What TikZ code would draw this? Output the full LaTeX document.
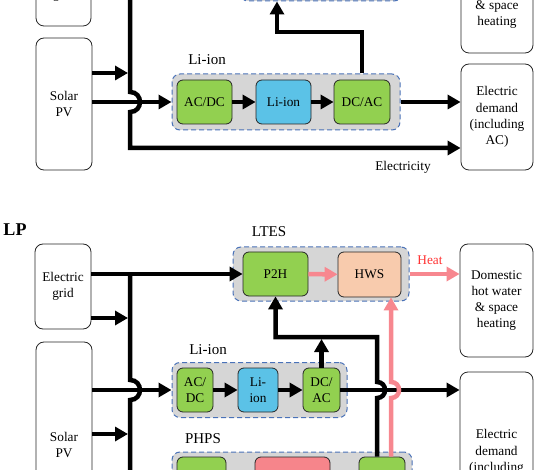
\documentclass[tikz,border=0pt]{standalone}
\usepackage{fontspec}
\setmainfont{Liberation Serif}
\usetikzlibrary{arrows.meta,calc}
\definecolor{gboxc}{HTML}{92D050}
\definecolor{bboxc}{HTML}{5BC2E7}
\definecolor{peachc}{HTML}{F8CBAD}
\definecolor{pinkboxc}{HTML}{F6858B}
\definecolor{pinkln}{HTML}{F7878F}
\definecolor{contc}{HTML}{D6D6D6}
\definecolor{dashc}{HTML}{4A72B8}
\definecolor{heatc}{HTML}{FF3333}
\begin{document}
\begin{tikzpicture}[x=1pt,y=-1pt,
  txt/.style={font=\fontsize{13.3}{16.3}\selectfont, align=center},
  wbox/.style={txt, draw=black!85, line width=0.8pt, rounded corners=8pt, fill=white, inner sep=0pt},
  gbox/.style={txt, draw=black!85, line width=0.8pt, rounded corners=6pt, fill=gboxc, inner sep=0pt},
  bbox/.style={gbox, fill=bboxc},
  peachbox/.style={gbox, fill=peachc},
  pinkbox/.style={gbox, fill=pinkboxc},
  cont/.style={draw=dashc, line width=1pt, dash pattern=on 5pt off 3pt, rounded corners=8pt, fill=contc, inner sep=0pt},
  lbl/.style={font=\fontsize{15}{17}\selectfont},
  wire/.style={line width=4.5pt},
  conn/.style={wire, -{Triangle[length=13pt,width=14pt]}},
  pwire/.style={line width=4.5pt, draw=pinkln},
  pconn/.style={pwire, -{Triangle[length=13pt,width=14pt]}, pinkln},
  hopdn/.style={insert path={-- ($(#1)+(0,-10)$) .. controls +(13.3,0) and +(13.3,0) .. ($(#1)+(0,10)$)}},
  hopup/.style={insert path={-- ($(#1)+(0,8)$) .. controls +(10.7,0) and +(10.7,0) .. ($(#1)+(0,-8)$)}}
]
\useasboundingbox (0,0) rectangle (535,470);
\clip (0,0) rectangle (535,470);

% ================= top section =================
\node[wbox, minimum width=55pt, minimum height=78pt] (gridT) at (63.5,-13) {Electric\\grid};
\node[wbox, minimum width=56pt, minimum height=132pt] (solarT) at (64,104) {Solar\\PV};
\node[wbox, minimum width=72pt, minimum height=109pt] (domT) at (497,-1.5) {Domestic\\hot water\\\& space\\heating};
\node[wbox, minimum width=72pt, minimum height=106pt] (demT) at (497,117) {Electric\\demand\\(including\\AC)};

\node[cont, minimum width=162pt, minimum height=60pt] (ltesT) at (321,-29) {};
\node[cont, minimum width=228pt, minimum height=56pt] (liT) at (286,102) {};
\node[lbl] (liTl) at (207,60) {Li-ion};
\node[gbox, minimum width=55pt, minimum height=44pt] (acdcT) at (204.5,102) {AC/DC};
\node[bbox, minimum width=55pt, minimum height=44pt] (libT) at (283.5,102) {Li-ion};
\node[gbox, minimum width=56pt, minimum height=44pt] (dcacT) at (362,102) {DC/AC};

\coordinate (busT0) at (130,-6);
\coordinate (hopT) at (130,102);
\coordinate (busT1) at (130,148);
\coordinate (bT1) at (130,73);
\coordinate (t1) at (362,32);
\coordinate (t2) at (277,32);

\draw[conn] (busT0) [hopdn=hopT] -- (busT1) -- (busT1 -| demT.west);
\draw[conn] (solarT.east |- bT1) -- ($(bT1)+(-2,0)$);
\draw[conn] (solarT.east |- hopT) -- (liT.west |- hopT);
\draw[conn] (acdcT) -- (libT);
\draw[conn] (libT) -- (dcacT);
\draw[conn] (dcacT.north |- liT.north) -- (t1) -- (t2) -- (t2 |- ltesT.south);
\draw[conn] (liT.east) -- (demT.west |- liT.east);
\node[txt] (elec) at (403,167) {Electricity};

% ================= bottom section =================
\node[font=\bfseries\fontsize{18}{20}\selectfont] (lp) at (15,230) {LP};
\node[wbox, minimum width=56pt, minimum height=85pt] (gridB) at (63,286.5) {Electric\\grid};
\node[wbox, minimum width=56pt, minimum height=206pt] (solarB) at (64,445) {Solar\\PV};
\node[wbox, minimum width=73pt, minimum height=113pt] (domB) at (496.5,300.5) {Domestic\\hot water\\\& space\\heating};
\node[wbox, minimum width=73pt, minimum height=176pt] (demB) at (496.5,460) {Electric\\demand\\(including\\AC)};

\node[cont, minimum width=176pt, minimum height=54pt] (ltesB) at (321,274) {};
\node[lbl] (ltesl) at (269,232) {LTES};
\node[gbox, minimum width=65pt, minimum height=44pt] (p2h) at (275.5,274) {P2H};
\node[peachbox, minimum width=63pt, minimum height=45pt] (hws) at (369.5,274.5) {HWS};
\node[txt, text=heatc] (heat) at (430,260) {Heat};

\node[cont, minimum width=175pt, minimum height=55pt] (liB) at (259.5,390) {};
\node[lbl] (liBl) at (208,350) {Li-ion};
\node[gbox, minimum width=36pt, minimum height=44pt] (acdcB) at (195,390) {AC/\\DC};
\node[bbox, minimum width=40pt, minimum height=44pt] (libB) at (258,390) {Li-\\ion};
\node[gbox, minimum width=37pt, minimum height=44pt] (dcacB) at (321.5,390) {DC/\\AC};

\node[cont, minimum width=240pt, minimum height=68pt] (phps) at (292,486) {};
\node[lbl] (phpsl) at (203,439) {PHPS};
\node[gbox, minimum width=49pt, minimum height=53pt] (pg1) at (201.5,483.5) {};
\node[pinkbox, minimum width=75pt, minimum height=53pt] (pp) at (292.5,483.5) {};
\node[gbox, minimum width=46pt, minimum height=53pt] (pg2) at (382,483.5) {};

\coordinate (jB) at (130,274);
\coordinate (hopB) at (130,390);
\coordinate (busB1) at (130,485);
\coordinate (bB1) at (130,318);
\coordinate (bB2) at (130,434);
\coordinate (hb1) at (377,390);
\coordinate (hb2) at (391,390);
\coordinate (k1) at (377,337);

\draw[conn] (gridB.east |- jB) -- (p2h.west);
\draw[wire] (jB) [hopdn=hopB] -- (busB1);
\draw[conn] (gridB.east |- bB1) -- ($(bB1)+(-2,0)$);
\draw[conn] (solarB.east |- bB2) -- ($(bB2)+(-2,0)$);
\draw[conn] (solarB.east |- hopB) -- (liB.west |- hopB);
\draw[conn] (acdcB) -- (libB);
\draw[conn] (libB) -- (dcacB);
\draw[conn] (dcacB.east) -- (demB.west |- dcacB.east);
\draw[conn] (dcacB.north) -- ($(dcacB.north |- k1)+(0,2)$);
\draw[conn] (pg2.north -| hb1) [hopup=hb1] -- (k1) -- (k1 -| p2h.south) -- (p2h.south);
\draw[pconn] (pg2.north -| hb2) [hopup=hb2] -- (hb2 |- hws.south);
\draw[pconn] (p2h) -- (hws);
\draw[pconn] (ltesB.east) -- (domB.west |- ltesB.east);
\end{tikzpicture}
\end{document}
